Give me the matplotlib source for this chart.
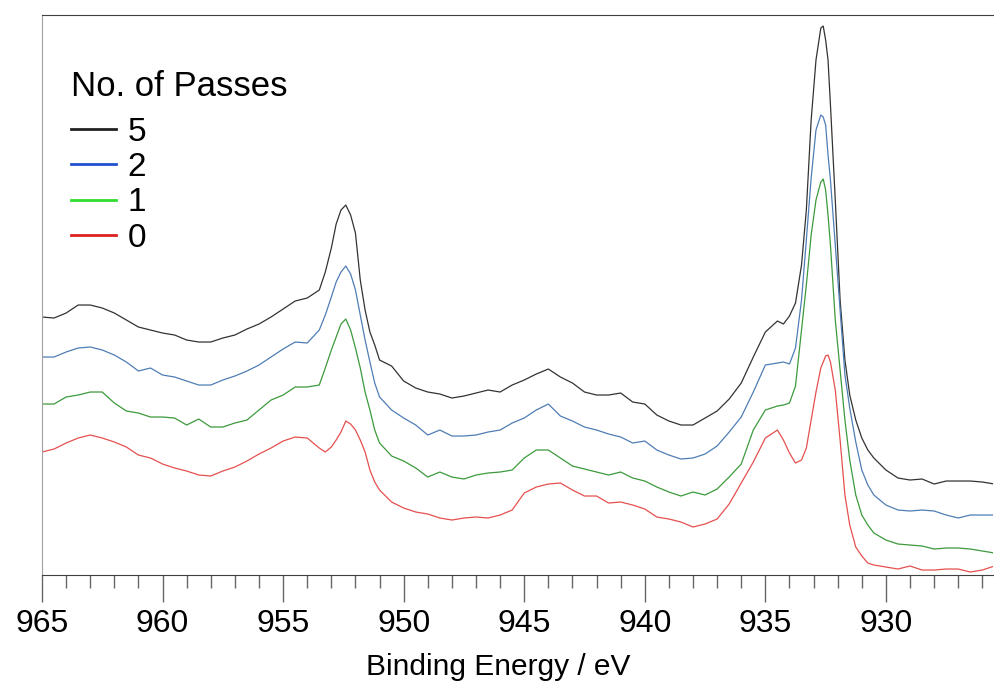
import matplotlib
matplotlib.use("Agg")
import matplotlib.pyplot as plt
from matplotlib.lines import Line2D
from matplotlib.ticker import MultipleLocator

plt.rcParams['font.family'] = ['Liberation Sans', 'DejaVu Sans']

# --- DADOS (intensidade em u.a.) ---
binding_energy = [
    965.0, 964.5, 964.0, 963.5, 963.0, 962.5, 962.0, 961.5, 961.0, 960.5, 960.0, 959.5,
    959.0, 958.5, 958.0, 957.5, 957.0, 956.5, 956.0, 955.5, 955.0, 954.5, 954.0, 953.5,
    953.25, 953.0, 952.8, 952.6, 952.4, 952.2, 952.0, 951.8, 951.6, 951.4, 951.2, 951.0,
    950.5, 950.0, 949.5, 949.0, 948.5, 948.0, 947.5, 947.0, 946.5, 946.0, 945.5, 945.0,
    944.5, 944.0, 943.5, 943.0, 942.5, 942.0, 941.5, 941.0, 940.5, 940.0, 939.5, 939.0,
    938.5, 938.0, 937.5, 937.0, 936.5, 936.0, 935.5, 935.0, 934.5,
    934.25, 934.0, 933.75, 933.5, 933.3, 933.1, 932.9, 932.7, 932.6, 932.5, 932.4, 932.3,
    932.1, 931.9, 931.7, 931.5, 931.25, 931.0, 930.75, 930.5,
    930.0, 929.5, 929.0, 928.5, 928.0, 927.5, 927.0, 926.5, 926.0, 925.5,
]

passes_5 = [
    258, 257, 262, 270, 270, 267, 262, 255, 248, 245, 242, 240,
    235, 233, 233, 237, 240, 246, 251, 258, 266, 274, 277, 285,
    303, 327, 351, 365, 370, 360, 342, 295, 265, 243, 230, 215,
    209, 194, 187, 183, 181, 177, 179, 182, 185, 183, 190, 195,
    201, 206, 198, 192, 183, 180, 180, 182, 173, 171, 160, 154,
    150, 150, 157, 164, 176, 192, 218, 243, 254,
    251, 259, 272, 310, 365, 455, 515, 547, 549, 535, 515, 470,
    375, 275, 215, 180, 155, 137, 125, 117,
    105, 97, 95, 96, 91, 94, 94, 94, 93, 91,
]

passes_2 = [
    218, 218, 223, 227, 228, 225, 220, 213, 204, 207, 200, 198,
    194, 190, 190, 195, 199, 204, 210, 218, 226, 233, 232, 245,
    260, 278, 293, 303, 309, 301, 285, 260, 235, 213, 192, 178,
    165, 157, 150, 140, 145, 139, 139, 140, 143, 145, 152, 157,
    165, 171, 159, 154, 148, 145, 141, 138, 132, 134, 125, 120,
    116, 117, 121, 129, 143, 158, 183, 210, 212,
    213, 211, 227, 275, 335, 397, 445, 460, 458, 450, 420, 395,
    330, 265, 200, 167, 133, 105, 90, 80,
    70, 65, 64, 65, 64, 60, 57, 60, 60, 60,
]

passes_1 = [
    171, 171, 178, 180, 183, 183, 172, 164, 162, 158, 158, 157,
    150, 156, 148, 148, 152, 155, 165, 175, 180, 188, 188, 190,
    207, 225, 238, 251, 256, 245, 227, 207, 183, 165, 145, 132,
    119, 114, 107, 98, 103, 98, 96, 100, 102, 103, 105, 117,
    125, 125, 117, 109, 106, 103, 100, 103, 97, 94, 88, 83,
    79, 83, 80, 86, 98, 111, 145, 165, 169,
    170, 172, 189, 245, 290, 340, 375, 393, 396, 385, 360, 330,
    255, 205, 155, 115, 80, 60, 50, 42,
    35, 31, 30, 29, 26, 27, 27, 26, 24, 22,
]

passes_0 = [
    123, 126, 132, 137, 140, 137, 133, 128, 120, 117, 111, 107,
    104, 100, 99, 104, 108, 114, 121, 127, 134, 138, 137, 127,
    123, 128, 135, 143, 154, 151, 145, 135, 123, 105, 93, 85,
    73, 67, 63, 61, 57, 55, 57, 58, 57, 60, 65, 82,
    88, 91, 92, 85, 79, 79, 72, 73, 70, 66, 58, 56,
    53, 48, 51, 56, 71, 92, 113, 137, 145,
    135, 122, 112, 115, 127, 155, 183, 207, 213, 219, 220, 213,
    185, 135, 80, 50, 28, 19, 12, 10,
    8, 6, 9, 5, 5, 6, 6, 3, 5, 9,
]

series_labels = ['5', '2', '1', '0']
line_colors = ['#333333', '#4f7db5', '#3c9a3c', '#e5504f']
legend_colors = ['#222222', '#2050d0', '#30dd30', '#dd2020']

fig = plt.figure(figsize=(9.95, 6.83), dpi=100)
ax = fig.add_axes([0.0422, 0.1581, 0.956, 0.8199])

for y, c in zip([passes_5, passes_2, passes_1, passes_0], line_colors):
    ax.plot(binding_energy, y, color=c, lw=0.9)

ax.set_xlim(965, 925.55)
ax.set_ylim(0, 560)

# eixos
ax.spines['right'].set_visible(False)
ax.spines['left'].set_color('#a0a0a0')
ax.spines['top'].set_color('#404040')
ax.spines['bottom'].set_color('#404040')
ax.set_yticks([])
ax.xaxis.set_major_locator(MultipleLocator(5))
ax.xaxis.set_minor_locator(MultipleLocator(1))
ax.tick_params(axis='x', which='major', direction='out', length=19.5, width=1,
               color='#666666', labelsize=23, pad=5)
ax.tick_params(axis='x', which='minor', direction='out', length=9.5, width=1,
               color='#666666')
ax.set_xlabel('Binding Energy / eV', fontsize=21.5)
ax.xaxis.set_label_coords(0.48, -0.14)

handles = [Line2D([0], [0], color=c, lw=2) for c in legend_colors]
leg = ax.legend(handles, series_labels, title='No. of Passes', loc='upper left',
                bbox_to_anchor=(0.0055, 0.944), frameon=False, fontsize=24,
                title_fontsize=25, handlelength=1.35, handletextpad=0.36,
                labelspacing=0.13, borderpad=0.2)
leg._legend_box.align = 'left'
leg._legend_box.sep = 10  # espaço extra entre título e itens

fig.savefig('out.png', dpi=100)
